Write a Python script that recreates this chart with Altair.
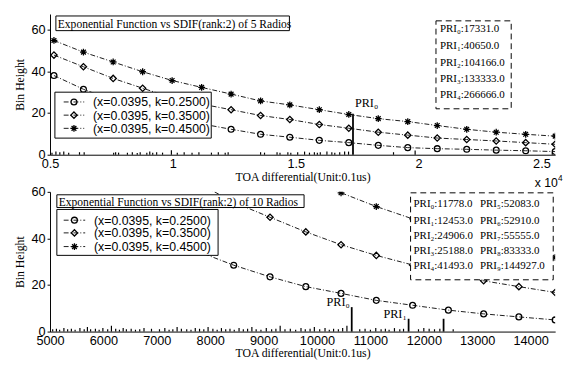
import altair as alt
import pandas as pd

# ---------------- data ----------------
SERIES = ["(x=0.0395, k=0.2500)", "(x=0.0395, k=0.3500)", "(x=0.0395, k=0.4500)"]

TOP_X = [5160, 6360, 7570, 8770, 9970, 11170, 12370, 13570, 14760, 15960,
         17160, 18360, 19560, 20760, 21960, 23160, 24360, 25560]
TOP_K25 = [38.0, 31.4, 26.0, 21.5, 17.8, 14.8, 12.2, 9.8, 8.4, 6.9,
           5.8, 4.5, 3.4, 2.9, 2.6, 2.2, 1.9, 1.5]
TOP_K35 = [47.8, 42.2, 36.6, 31.9, 27.3, 24.3, 21.6, 18.8, 16.9, 14.5,
           12.7, 10.8, 9.4, 8.0, 7.3, 6.6, 5.8, 5.0]
TOP_K45 = [54.8, 49.2, 44.5, 39.8, 35.6, 32.3, 29.1, 25.8, 23.9, 21.6,
           19.3, 17.3, 15.9, 14.0, 12.2, 10.8, 9.8, 8.9]

TOP_SPIKE_X = [5080, 5240, 5400, 5560, 5760, 6200, 6390, 7590, 7670, 7790,
               8150, 8350, 8550, 8670, 8940, 9060, 9180, 9340, 9580, 9940,
               10180, 10460, 10780, 11060, 11570, 11850, 12130, 12250, 13570, 13730,
               14240, 14360, 14680, 14800, 15080, 15360, 15560, 15760, 15880, 16000,
               16270, 16470, 16590, 16790, 16990, 17150, 18980, 19860, 25440]
TOP_SPIKE_H = [1.0, 1.5, 1.2, 1.5, 1.0, 1.2, 1.2, 1.0, 1.2, 1.0,
               1.0, 1.2, 0.8, 1.2, 1.0, 1.5, 1.0, 1.2, 1.0, 2.2,
               1.0, 1.2, 1.0, 1.2, 1.0, 1.2, 1.0, 1.2, 1.2, 1.0,
               1.2, 1.0, 1.2, 1.0, 1.2, 1.5, 1.0, 1.2, 1.0, 1.2,
               1.5, 1.2, 1.0, 1.2, 1.5, 1.5, 1.2, 2.0, 1.2]
TOP_PRI_X = [17331]
TOP_PRI_H = [19.7]
TOP_PRI_LABEL = ["PRI₀"]
TOP_PRI_BOX = ["PRI₀:17331.0", "PRI₁:40650.0", "PRI₂:104166.0", "PRI₃:133333.0", "PRI₄:266666.0"]

BOT_X = [6430, 7100, 7760, 8440, 9120, 9790, 10450, 11110, 11790, 12460, 13120, 13780, 14460]
BOT_K25 = [50.7, 41.9, 34.5, 28.5, 23.5, 19.3, 16.4, 13.4, 11.3, 9.2, 7.6, 6.3, 5.0]
BOT_K35 = [None, None, 64.0, 55.5, 49.1, 42.8, 37.3, 32.7, 28.6, 25.0, 21.8, 19.3, 16.8]
BOT_K45 = [None, None, None, None, None, 66.3, 59.6, 53.7, 48.4, 43.6, 39.3, 35.4, 31.9]

BOT_SPIKE_X = [5050, 5120, 5180, 5260, 5330, 5400, 5470, 5560, 5640, 5700,
               5760, 5850, 5920, 5990, 6080, 6150, 6230, 6300, 6370, 6430,
               6520, 6600, 6680, 6760, 6900, 7050, 7150, 7230, 7300, 7380,
               7460, 7560, 7640, 7720, 7800, 7880, 7960, 8050, 8130, 8210,
               8290, 8370, 8450, 8540, 8620, 8700, 8780, 8860, 8950, 9050,
               9150, 9230, 9310, 9400, 9500, 9600, 9700, 9780, 9870, 9950,
               10050, 10150, 10230, 10310, 10400, 10480, 10560, 10800, 10900, 11000,
               11100, 11200, 11280, 11350, 11450, 11550, 11620, 11900, 12000, 12100,
               12200, 12300, 12550]
BOT_SPIKE_H = [1.0, 1.2, 0.8, 1.5, 1.0, 1.2, 0.8, 1.5, 1.0, 2.0,
               1.0, 1.2, 0.8, 1.5, 1.0, 2.5, 1.2, 0.8, 1.5, 1.0,
               1.2, 0.8, 1.0, 1.5, 1.2, 1.0, 1.5, 0.8, 1.0, 2.0,
               1.2, 1.0, 0.8, 1.5, 1.2, 1.0, 2.0, 1.2, 0.8, 1.5,
               1.0, 1.2, 0.8, 1.5, 1.0, 1.2, 2.0, 1.0, 0.8, 1.5,
               1.0, 1.2, 2.5, 1.0, 1.2, 0.8, 1.5, 1.0, 1.2, 2.0,
               1.0, 1.5, 0.8, 1.2, 1.0, 1.5, 2.5, 1.0, 1.2, 0.8,
               1.5, 1.0, 1.2, 0.8, 1.5, 1.0, 1.2, 1.0, 1.5, 1.2,
               1.0, 1.2, 1.0]
BOT_PRI_X = [10650, 11715, 12370]
BOT_PRI_H = [10.5, 5.5, 5.5]
BOT_PRI_LABEL = ["PRI₀", "PRI₁", ""]
BOT_PRI_BOX_1 = ["PRI₀:11778.0", "PRI₁:12453.0", "PRI₂:24906.0", "PRI₃:25188.0", "PRI₄:41493.0"]
BOT_PRI_BOX_2 = ["PRI₅:52083.0", "PRI₆:52910.0", "PRI₇:55555.0", "PRI₈:83333.0", "PRI₉:144927.0"]

TITLE_TOP = "Exponential Function vs SDIF(rank:2) of 5 Radios"
TITLE_BOT = "Exponential Function vs SDIF(rank:2) of 10 Radios"
XTITLE = "TOA differential(Unit:0.1us)"
YTITLE = "Bin Height"

# ---------------- style ----------------
SERIF = "Liberation Serif"
SANS = "Liberation Sans"
DASHDOT = [5, 2, 1, 2]
STAR = "M-1,0L1,0M0,-1L0,1M-0.7,-0.7L0.7,0.7M-0.7,0.7L0.7,-0.7"
SHAPES = ["circle", "diamond", STAR]
SIZES = [36, 42, 48]
ONE = pd.DataFrame({"a": [0]})
W = 517


def series_frame(xs, ys):
    return pd.DataFrame({"x": xs, "y": ys}).dropna()


def panel(xs, ylists, spike_x, spike_h, pri_x, pri_h, pri_lab, pri_right,
          xdom, ydom, xaxis, height, title, tbox, legbox, pri_boxes):
    X = alt.X("x:Q", scale=alt.Scale(domain=xdom, nice=False, zero=False), axis=xaxis)
    Y = alt.Y("y:Q", scale=alt.Scale(domain=ydom, nice=False),
              axis=alt.Axis(values=[0, 20, 40, 60], format="d", title=YTITLE,
                            tickSize=3, labelPadding=2, titlePadding=4,
                            minExtent=20, maxExtent=20))
    layers = []
    # spikes
    sp = pd.DataFrame({"x": spike_x, "y": [0] * len(spike_x), "h": spike_h})
    layers.append(alt.Chart(sp).mark_rule(color="black", strokeWidth=1.2).encode(
        x=X, y=Y, y2="h:Q"))
    pr = pd.DataFrame({"x": pri_x, "y": [0] * len(pri_x), "h": pri_h, "lab": pri_lab})
    layers.append(alt.Chart(pr).mark_rule(color="black", strokeWidth=1.8).encode(
        x=X, y=Y, y2="h:Q"))
    if pri_right:
        lab = alt.Chart(pr).mark_text(align="right", baseline="alphabetic", dx=-2, dy=-1,
                                      font=SERIF, fontSize=12.5, color="black")
    else:
        lab = alt.Chart(pr).mark_text(align="left", baseline="alphabetic", dx=2, dy=-7,
                                      font=SERIF, fontSize=12.5, color="black")
    layers.append(lab.encode(x=X, y=alt.Y("h:Q"), text="lab:N"))
    # curves
    for i, ys in enumerate(ylists):
        df = series_frame(xs, ys)
        layers.append(alt.Chart(df).mark_line(color="black", strokeWidth=0.9,
                                              strokeDash=DASHDOT, clip=True).encode(x=X, y=Y))
        layers.append(alt.Chart(df).mark_point(shape=SHAPES[i], size=SIZES[i], filled=False,
                                               color="black", strokeWidth=1.3, opacity=1,
                                               clip=True).encode(x=X, y=Y))
    # legend box
    lx0, ly0, lx1, ly1, rows, sx0, sx1, tx = legbox
    layers.append(alt.Chart(ONE).mark_rect(fill="white", stroke="black", strokeWidth=1).encode(
        x=alt.value(lx0), x2=alt.value(lx1), y=alt.value(ly0), y2=alt.value(ly1)))
    for i, name in enumerate(SERIES):
        ry = rows[i]
        layers.append(alt.Chart(ONE).mark_rule(color="black", strokeWidth=0.9,
                                               strokeDash=DASHDOT).encode(
            x=alt.value(sx0), x2=alt.value(sx1), y=alt.value(ry)))
        layers.append(alt.Chart(ONE).mark_point(shape=SHAPES[i], size=SIZES[i], filled=False,
                                                color="black", strokeWidth=1.3, opacity=1).encode(
            x=alt.value((sx0 + sx1) / 2), y=alt.value(ry)))
        layers.append(alt.Chart(ONE).mark_text(align="left", baseline="middle", font=SANS,
                                               fontSize=12.6, color="black", text=name).encode(
            x=alt.value(tx), y=alt.value(ry + 0.5)))
    # title box
    bx0, by0, bx1, by1 = tbox
    layers.append(alt.Chart(ONE).mark_rect(fill="white", stroke="black", strokeWidth=1).encode(
        x=alt.value(bx0), x2=alt.value(bx1), y=alt.value(by0), y2=alt.value(by1)))
    layers.append(alt.Chart(ONE).mark_text(align="left", baseline="middle", font=SERIF,
                                           fontSize=11.8, color="black", text=title).encode(
        x=alt.value(bx0 + 2), y=alt.value((by0 + by1) / 2 + 0.5)))
    # PRI box
    px0, py0, px1, py1, cols, rowsy = pri_boxes
    layers.append(alt.Chart(ONE).mark_rect(fill="white", stroke="black", strokeWidth=1,
                                           strokeDash=[6, 4]).encode(
        x=alt.value(px0), x2=alt.value(px1), y=alt.value(py0), y2=alt.value(py1)))
    for cx, texts in cols:
        for j, t in enumerate(texts):
            layers.append(alt.Chart(ONE).mark_text(align="left", baseline="middle", font=SERIF,
                                                   fontSize=11.2, color="black", text=t).encode(
                x=alt.value(cx), y=alt.value(rowsy[j])))
    return alt.layer(*layers).properties(width=W, height=height)


top_xaxis = alt.Axis(values=[5000, 10000, 15000, 20000, 25000],
                     labelExpr="datum.value / 10000 + ''", title=XTITLE,
                     ticks=False, labelPadding=3, titlePadding=1,
                     labelFlush=False, labelBound=False)
bot_xaxis = alt.Axis(values=list(range(5000, 15000, 1000)), format="d", title=XTITLE,
                     ticks=False, labelPadding=3, titlePadding=1,
                     labelFlush=False, labelBound=False)

top = panel(TOP_X, [TOP_K25, TOP_K35, TOP_K45], TOP_SPIKE_X, TOP_SPIKE_H,
            TOP_PRI_X, TOP_PRI_H, TOP_PRI_LABEL, False,
            [5000, 25560], [0, 67.5], top_xaxis, 144, TITLE_TOP,
            (6, 2, 245, 17),
            (5, 80, 165, 127, [90, 103.5, 117], 14, 35, 44),
            (395, 7, 472, 97, [(399, TOP_PRI_BOX)], [15, 33, 50, 67, 83]))
top_x10 = [
    alt.Chart(ONE).mark_text(align="left", baseline="alphabetic", font=SANS, fontSize=12.5,
                             color="black", text="x 10").encode(x=alt.value(496), y=alt.value(177)),
    alt.Chart(ONE).mark_text(align="left", baseline="alphabetic", font=SANS, fontSize=8.5,
                             color="black", text="4").encode(x=alt.value(520), y=alt.value(171)),
]
top = alt.layer(top, *top_x10)

bot = panel(BOT_X, [BOT_K25, BOT_K35, BOT_K45], BOT_SPIKE_X, BOT_SPIKE_H,
            BOT_PRI_X, BOT_PRI_H, BOT_PRI_LABEL, True,
            [5000, 14460], [0, 60], bot_xaxis, 143, TITLE_BOT,
            (7, 3, 260, 16),
            (7, 18, 172, 65, [29, 42, 56], 14, 36, 45),
            (369, 1, 515, 90, [(372, BOT_PRI_BOX_1), (440, BOT_PRI_BOX_2)], [13, 30, 45, 61, 76]))

chart = alt.vconcat(top, bot, spacing=38, bounds="flush").properties(
    padding={"left": 6, "top": 2, "right": 0, "bottom": 0}
).configure_view(stroke=None).configure_axis(
    domainColor="black", domainWidth=1, tickColor="black", labelColor="black",
    titleColor="black", labelFont=SANS, labelFontSize=13, titleFont=SERIF,
    titleFontSize=12, titleFontWeight="normal", grid=False
)

chart.save("out.html", embed_options={"renderer": "svg", "actions": False})
